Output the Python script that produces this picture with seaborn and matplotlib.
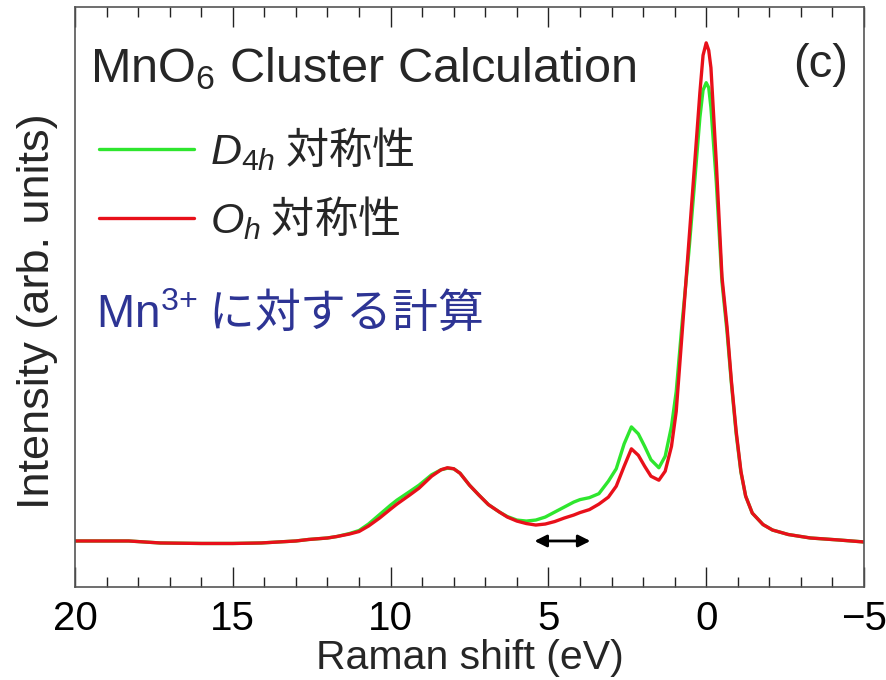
import numpy as np
import pandas as pd
import matplotlib
matplotlib.use("Agg")
import matplotlib.pyplot as plt
import seaborn as sns
from matplotlib.lines import Line2D
from matplotlib.ticker import MultipleLocator

# ---- data (Raman shift in eV, intensity arb. units) ----
shift = [20, 19, 18.3, 17.3, 16, 15, 14.1, 13, 12.6, 12, 11.7, 11.3, 11, 10.7,
         10.35, 10, 9.8, 9.4, 9.1, 8.7, 8.4, 8.2, 8.0, 7.8, 7.5, 7.2, 6.9, 6.55,
         6.3, 6.0, 5.7, 5.4, 5.1, 4.8, 4.5, 4.2, 4.0, 3.7, 3.4, 3.1, 2.85, 2.6,
         2.37, 2.15, 1.95, 1.75, 1.5, 1.3, 1.1, 0.95, 0.76, 0.55, 0.38, 0.2, 0.1,
         0.0, -0.08, -0.15, -0.32, -0.5, -0.66, -0.8, -0.95, -1.1, -1.25, -1.46,
         -1.8, -2.1, -2.6, -3.3, -4.2, -5]

oh_red = [0.000, 0.000, 0.000, -0.004, -0.005, -0.005, -0.004, 0.000, 0.003,
          0.006, 0.009, 0.014, 0.019, 0.030, 0.046, 0.064, 0.074, 0.092, 0.106,
          0.130, 0.143, 0.147, 0.145, 0.136, 0.112, 0.092, 0.073, 0.058, 0.048,
          0.040, 0.035, 0.032, 0.034, 0.039, 0.046, 0.052, 0.057, 0.063, 0.074,
          0.088, 0.110, 0.150, 0.185, 0.172, 0.150, 0.130, 0.122, 0.140, 0.190,
          0.260, 0.420, 0.600, 0.745, 0.900, 0.975, 1.000, 0.985, 0.950, 0.760,
          0.530, 0.430, 0.320, 0.220, 0.140, 0.090, 0.056, 0.033, 0.022, 0.013,
          0.006, 0.002, -0.002]

d4h_green = [0.000, 0.000, 0.000, -0.004, -0.005, -0.005, -0.004, 0.000, 0.003,
             0.006, 0.009, 0.015, 0.021, 0.034, 0.053, 0.072, 0.082, 0.099, 0.112,
             0.133, 0.143, 0.146, 0.145, 0.136, 0.112, 0.092, 0.073, 0.058, 0.049,
             0.042, 0.040, 0.042, 0.048, 0.058, 0.068, 0.078, 0.083, 0.087, 0.095,
             0.120, 0.145, 0.195, 0.229, 0.215, 0.190, 0.163, 0.147, 0.170, 0.230,
             0.300, 0.440, 0.580, 0.710, 0.850, 0.905, 0.920, 0.910, 0.870, 0.720,
             0.520, 0.420, 0.315, 0.215, 0.138, 0.090, 0.056, 0.033, 0.022, 0.013,
             0.006, 0.002, -0.002]

arrow_from, arrow_to, arrow_level = 5.44, 3.67, 0.0

x_ticks = [20, 15, 10, 5, 0, -5]
x_tick_labels = ["20", "15", "10", "5", "0", "\u22125"]

green = "#2ee62e"
red = "#e8101a"
blue = "#2d3494"

# ---- style ----
sns.set_theme(style="ticks")
plt.rcParams["font.family"] = ["Liberation Sans", "Noto Sans CJK JP", "DejaVu Sans"]
plt.rcParams["mathtext.fontset"] = "custom"
plt.rcParams["mathtext.rm"] = "Liberation Sans"
plt.rcParams["mathtext.it"] = "Liberation Sans:italic"
plt.rcParams["mathtext.bf"] = "Liberation Sans:bold"
plt.rcParams["axes.unicode_minus"] = True

fig = plt.figure(figsize=(8.87, 6.80), dpi=100)
ax = fig.add_axes([75 / 887, 1 - 587 / 680, (864 - 75) / 887, (587 - 7) / 680])

df = pd.DataFrame({"shift": shift, "D4h": d4h_green, "Oh": oh_red})
sns.lineplot(data=df, x="shift", y="D4h", ax=ax, color=green, lw=2.4,
             sort=False, estimator=None)
sns.lineplot(data=df, x="shift", y="Oh", ax=ax, color=red, lw=2.4,
             sort=False, estimator=None)

ax.set_xlim(20, -5)
ax.set_ylim(-0.0924, 1.072)
ax.set_xticks(x_ticks)
ax.set_xticklabels(x_tick_labels)
ax.xaxis.set_minor_locator(MultipleLocator(1))
ax.set_yticks([])
ax.tick_params(axis="x", which="major", direction="in", length=14.5, width=1.0,
               top=True, bottom=True, labelsize=29, pad=9, colors="#222222",
               labelcolor="black")
ax.tick_params(axis="x", which="minor", direction="in", length=7.5, width=1.0,
               top=True, bottom=True, colors="#222222")
for s in ax.spines.values():
    s.set_color("#555555")
    s.set_linewidth(1.2)

ax.set_xlabel("Raman shift (eV)", fontsize=29.5)
ax.xaxis.set_label_coords(0.5, -0.155)
ax.xaxis.label.set_va("bottom")
ax.set_ylabel("Intensity (arb. units)", fontsize=32.5)
ax.yaxis.set_label_coords(-0.021, 0.476)

# arrow
ax.annotate("", xy=(arrow_to, arrow_level), xytext=(arrow_from, arrow_level),
            arrowprops=dict(arrowstyle="<|-|>", color="black", lw=2.0,
                            mutation_scale=18, shrinkA=0, shrinkB=0))

# texts
ax.text((90 - 75) / 789, (587 - 82) / 580, r"MnO$_{6}$ Cluster Calculation",
        transform=ax.transAxes, fontsize=35, ha="left", va="baseline")
ax.text((848 - 75) / 789, (587 - 77) / 580, "(c)", transform=ax.transAxes,
        fontsize=34, ha="right", va="baseline")
ax.text((96 - 75) / 789, (587 - 328) / 580, r"$\mathrm{Mn}^{3{+}}$ に対する計算",
        transform=ax.transAxes, fontsize=33, ha="left", va="baseline",
        color=blue, family="Noto Sans CJK JP")

handles = [Line2D([], [], color=green, lw=2.4), Line2D([], [], color=red, lw=2.4)]
labels = [r"$D_{4h}$ 対称性", r"$O_{h}$ 対称性"]
leg = ax.legend(handles, labels, loc="upper left",
                bbox_to_anchor=((99 - 75) / 789, (587 - 126) / 580),
                frameon=False, borderpad=0, borderaxespad=0,
                handlelength=2.2, handletextpad=0.38, labelspacing=0.5,
                prop={"family": "Noto Sans CJK JP", "size": 31})

fig.savefig("out.png", dpi=100)
